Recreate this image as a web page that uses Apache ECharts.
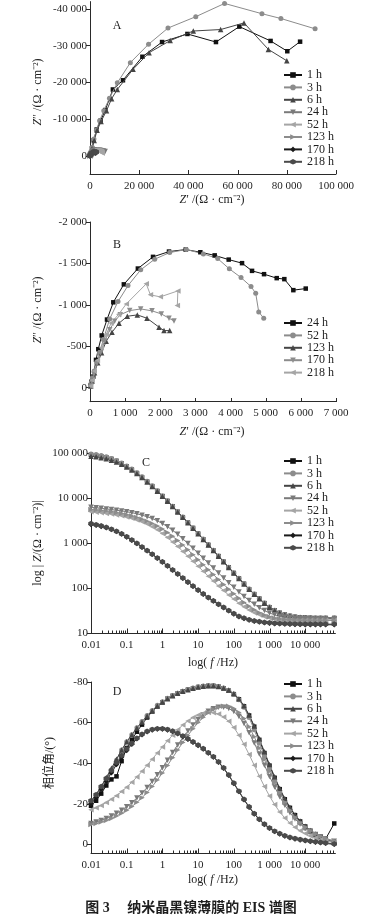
<!DOCTYPE html>
<html><head><meta charset="utf-8">
<script src="https://cdn.jsdelivr.net/npm/echarts@6/dist/echarts.min.js"></script>
<style>html,body{margin:0;padding:0;background:#fff}#c{width:366px;height:918px}</style>
</head><body><div id="c"></div>
<script>
// ---------- tick labels ----------
const aXTicks = [0, 20000, 40000, 60000, 80000, 100000];
const aYTicks = [-40000, -30000, -20000, -10000, 0];
const bXTicks = [0, 1000, 2000, 3000, 4000, 5000, 6000, 7000];
const bYTicks = [-2000, -1500, -1000, -500, 0];
const logXTicks = [0.01, 0.1, 1, 10, 100, 1000, 10000];
const cYTicks = [10, 100, 1000, 10000, 100000];
const dYTicks = [-80, -60, -40, -20, 0];

// ---------- categories ----------
const namesAll = ['1 h', '3 h', '6 h', '24 h', '52 h', '123 h', '170 h', '218 h'];
const namesB = ['24 h', '52 h', '123 h', '170 h', '218 h'];

// ---------- Nyquist data [Z', Z''] (Ω·cm⁻²) ----------
const nyq1h = [[100,-200],[350,-700],[800,-2100],[1500,-4300],[2700,-7200],[4300,-9600],[6200,-12500],[9300,-18100],[13400,-20600],[21300,-27000],[29300,-31000],[39600,-33200],[51200,-31000],[60700,-35200],[73400,-31300],[80200,-28500],[85400,-31100]];
const nyq3h = [[100,-250],[400,-900],[900,-2400],[1600,-4600],[2600,-7000],[3900,-9600],[5600,-12300],[7900,-15700],[11100,-19900],[16400,-25400],[23800,-30400],[31700,-34800],[43000,-37900],[54700,-41500],[69900,-38700],[77600,-37400],[91500,-34600]];
const nyq6h = [[100,-200],[350,-650],[850,-2000],[1700,-4200],[2900,-7000],[4500,-9400],[6700,-12300],[8800,-15600],[11100,-18100],[17500,-23600],[24000,-28100],[32600,-31400],[42000,-34000],[53100,-34400],[62600,-36200],[72500,-29000],[80000,-25900]];
const nyq24h = [[15,-25],[40,-70],[94,-133],[171,-335],[236,-464],[333,-630],[484,-822],[663,-1030],[963,-1247],[1362,-1438],[1793,-1579],[2248,-1643],[2723,-1667],[3140,-1635],[3548,-1597],[3947,-1546],[4326,-1503],[4611,-1410],[4952,-1370],[5313,-1322],[5530,-1310],[5786,-1177],[6139,-1196]];
const nyq52h = [[15,-20],[35,-60],[70,-120],[120,-200],[190,-300],[270,-420],[380,-580],[560,-830],[797,-1039],[1081,-1232],[1443,-1422],[1841,-1551],[2268,-1631],[2742,-1668],[3226,-1615],[3634,-1558],[3965,-1434],[4298,-1329],[4582,-1220],[4715,-1140],[4801,-914],[4944,-838]];
const nyq123h = [[20,-20],[60,-80],[130,-180],[220,-300],[330,-420],[460,-560],[626,-669],[825,-778],[1062,-862],[1346,-878],[1622,-838],[1964,-730],[2106,-689],[2268,-689]];
const nyq170h = [[20,-20],[50,-70],[110,-160],[200,-290],[300,-420],[420,-560],[560,-700],[700,-800],[860,-880],[1129,-930],[1443,-950],[1764,-927],[2030,-890],[2248,-838],[2391,-805]];
const nyq218h = [[20,-20],[60,-90],[120,-200],[210,-330],[320,-480],[460,-640],[600,-780],[817,-887],[1033,-1011],[1600,-1253],[1720,-1120],[2000,-1096],[2500,-1168],[2485,-991]];

// ---------- Bode data ----------
const freqs = [0.01,0.0139,0.0193,0.0268,0.0373,0.0518,0.072,0.1,0.139,0.193,0.268,0.373,0.518,0.72,1,1.39,1.93,2.68,3.73,5.18,7.2,10,13.9,19.3,26.8,37.3,51.8,72,100,139,193,268,373,518,720,1000,1390,1930,2680,3730,5180,7200,10000,13900,19300,26800,37300,65000];

const z1h = [93300,90200,86100,81300,75000,67600,59600,51300,43700,36300,29500,23400,18600,14500,11200,8710,6610,5010,3800,2880,2190,1640,1230,923,692,519,389,292,219,166,126,95.5,74.1,58.9,46.8,38.0,32.4,28.5,26.0,24.3,23.2,22.6,22.4,22.1,21.9,21.9,21.9,21.9];
const z3h = [97000,93500,89000,84000,77000,69500,61000,52500,44500,37000,30000,23800,18900,14700,11300,8800,6700,5050,3830,2900,2200,1650,1240,930,697,522,391,293,220,167,127,96,74.5,59,47,38.2,32.6,28.7,26.2,24.5,23.4,22.8,22.5,22.2,22,22,22,22];
const z6h = [86000,83500,80000,76000,70500,64000,57000,49500,42500,35500,29000,23100,18400,14300,11100,8620,6550,4960,3770,2860,2170,1630,1220,918,688,516,387,290,218,165,125,95,73.5,58.5,46.5,37.8,32.2,28.3,25.8,24.1,23,22.4,22.1,21.8,21.6,21.6,21.6,21.6];
const z24h = [6310,6170,6030,5820,5620,5430,5250,5010,4790,4520,4220,3890,3550,3160,2750,2340,1950,1580,1260,989,776,603,468,363,282,219,170,132,105,83.2,66.1,53.7,44.2,37.2,32.0,28.2,25.7,24.0,22.9,22.1,21.6,21.4,21.1,20.9,20.9,20.9,20.9,20.9];
const z52h = [5010,4900,4790,4620,4470,4270,4070,3850,3590,3310,3020,2690,2340,2000,1660,1350,1070,851,661,513,398,309,240,186,145,112,89.1,70.8,57.5,46.8,38.9,33.1,28.8,25.7,23.4,21.9,20.9,20.2,19.7,19.5,19.3,19.3,19.3,19.3,19.3,19.3,19.3,19.3];
const z123h = [5620,5500,5370,5200,5010,4790,4570,4330,4050,3760,3440,3110,2770,2420,2070,1740,1430,1150,912,716,558,433,335,260,202,157,122,95.5,75.9,60.3,48.6,39.8,33.4,28.8,25.5,23.2,21.7,20.8,20.2,19.9,19.7,19.6,19.5,19.5,19.5,19.5,19.5,19.5];
const z170h = [2630,2510,2370,2210,2020,1820,1600,1380,1170,989,822,684,569,468,385,313,254,207,168,136,111,90.2,74.1,61.7,51.9,43.7,37.2,31.6,26.9,23.4,21.4,19.7,18.6,17.8,17.2,16.8,16.4,16.2,16.0,15.8,15.7,15.6,15.5,15.5,15.5,15.5,15.5,15.5];
const z218h = [2750,2600,2440,2260,2060,1850,1630,1400,1190,1000,830,690,574,472,388,316,256,209,170,138,112,91.5,75.2,62.6,52.7,44.4,37.8,32.1,27.4,23.8,21.8,20.1,19.0,18.2,17.6,17.2,16.8,16.6,16.4,16.2,16.1,16.0,16.0,16.0,16.0,16.0,16.0,16.0];

const p1h = [-19,-21.5,-25,-29,-32,-33.5,-41,-47.5,-51.5,-55.5,-59,-62.5,-65.5,-68,-70,-71.8,-73.2,-74.4,-75.4,-76.2,-76.9,-77.5,-77.9,-78.1,-78.1,-77.7,-76.9,-75.7,-74,-71.5,-68,-63.5,-58,-51.5,-45,-38.8,-32.8,-27.2,-22.2,-18,-14.4,-11.3,-8.8,-6.7,-5,-3.7,-2.7,-10.3];
const p3h = [-20.5,-23.5,-27.5,-31.5,-36.5,-41.5,-46.5,-50.5,-54,-57.5,-60.5,-63.5,-66,-68.5,-70.3,-72,-73.3,-74.5,-75.5,-76.3,-77,-77.6,-78,-78.2,-78.2,-77.8,-77,-75.8,-74,-71.3,-67.5,-62.5,-56.5,-50,-43.5,-37.5,-31.5,-26,-21,-17,-13.5,-10.5,-8,-6,-4.5,-3.2,-2.2,-1];
const p6h = [-21,-24.5,-28.5,-33,-37.5,-42,-46.5,-50.5,-54,-57.3,-60.3,-63.2,-65.8,-68.2,-70.1,-71.8,-73.2,-74.4,-75.4,-76.2,-76.9,-77.5,-77.9,-78.1,-78.1,-77.8,-77.1,-76,-74.3,-71.8,-68.3,-63.8,-58.3,-52,-45.6,-39.3,-33.3,-27.6,-22.6,-18.3,-14.6,-11.5,-8.9,-6.8,-5.1,-3.7,-2.6,-1.2];
const p24h = [-10.3,-11,-11.8,-12.8,-14,-15.3,-16.8,-18.5,-20.5,-22.8,-25.3,-28,-31,-34.3,-37.8,-41.5,-45.3,-49,-52.5,-55.8,-58.8,-61.5,-63.8,-65.6,-66.8,-67.5,-67.6,-67,-65.5,-63,-59.5,-55,-50,-44.5,-39,-33.5,-28.3,-23.5,-19.3,-15.6,-12.5,-10,-8,-6.3,-4.9,-3.7,-2.7,-1.5];
const p52h = [-17,-18,-19.2,-20.6,-22.2,-24,-26,-28.2,-30.6,-33.2,-36,-39,-42,-45,-48,-51,-53.8,-56.5,-58.8,-60.8,-62.5,-63.8,-64.6,-65,-64.9,-64.2,-62.8,-60.6,-57.6,-53.8,-49.3,-44.3,-39,-33.6,-28.5,-23.8,-19.6,-16,-13,-10.5,-8.4,-6.7,-5.3,-4.1,-3.1,-2.3,-1.6,-0.8];
const p123h = [-9.8,-10.3,-11,-11.8,-12.8,-14,-15.3,-16.8,-18.6,-20.7,-23,-25.6,-28.5,-31.7,-35.2,-38.9,-42.7,-46.5,-50.2,-53.7,-57,-60,-62.6,-64.8,-66.5,-67.6,-68.1,-68,-67,-65,-62,-58,-53,-47.5,-41.8,-36,-30.5,-25.4,-20.8,-16.8,-13.4,-10.6,-8.4,-6.6,-5.1,-3.9,-2.9,-1.7];
const p170h = [-20,-23,-27,-31,-35.3,-39.3,-43,-46.3,-49.3,-52,-54,-55.5,-56.4,-56.8,-56.8,-56.4,-55.6,-54.5,-53.2,-51.8,-50.3,-48.7,-47,-45,-43,-40.5,-37.5,-34,-30,-26,-22,-18.3,-15,-12.2,-9.8,-7.9,-6.3,-5.1,-4.1,-3.3,-2.7,-2.2,-1.8,-1.4,-1.1,-0.8,-0.5,0];
const p218h = [-21.5,-24.5,-28.5,-32.5,-36.5,-40.3,-43.8,-47,-49.8,-52.3,-54.3,-55.7,-56.6,-57,-57,-56.6,-55.8,-54.7,-53.4,-52,-50.5,-48.9,-47.2,-45.2,-43.2,-40.7,-37.7,-34.2,-30.2,-26.2,-22.2,-18.5,-15.2,-12.4,-10,-8.1,-6.5,-5.3,-4.3,-3.5,-2.9,-2.4,-2,-1.6,-1.3,-1,-0.7,-0.2];

// ---------- styles ----------
const SERIF = "'Liberation Serif','Noto Sans CJK SC',serif";
const TXT = '#1e1e1e';
const AXC = '#2a2a2a';
const DOWN = 'path://M0,0L10,0L5,10Z';
const LEFT = 'path://M0,5L10,0L10,10Z';
const RIGHT = 'path://M0,0L10,5L0,10Z';
const HEX = 'path://M5,0L9.33,2.5L9.33,7.5L5,10L0.67,7.5L0.67,2.5Z';
const styleMain = {
  '1 h':   {c:'#111111', s:'rect', z:5},
  '3 h':   {c:'#8c8c8c', s:'circle', z:6},
  '6 h':   {c:'#454545', s:'triangle', z:6},
  '24 h':  {c:'#7a7a7a', s:DOWN, z:6},
  '52 h':  {c:'#a5a5a5', s:LEFT, z:6},
  '123 h': {c:'#8c8c8c', s:RIGHT, z:6},
  '170 h': {c:'#1a1a1a', s:'diamond', z:6},
  '218 h': {c:'#4a4a4a', s:HEX, z:6}
};
const styleB = {
  '24 h':  {c:'#111111', s:'rect', z:6},
  '52 h':  {c:'#8c8c8c', s:'circle', z:6},
  '123 h': {c:'#454545', s:'triangle', z:6},
  '170 h': {c:'#8c8c8c', s:DOWN, z:6},
  '218 h': {c:'#a5a5a5', s:LEFT, z:6}
};

function fmt(v) {
  const neg = v < 0;
  let s = String(Math.round(Math.abs(v)));
  if (s.length >= 4) s = s.replace(/\B(?=(\d{3})+(?!\d))/g, ' ');
  return (neg ? '-' : '') + s;
}
function fmtLog(v) { return v < 1 ? String(v) : fmt(v); }

function mkSeries(panel, name, st, xi, yi, data) {
  return {
    type: 'line', name: panel + '|' + name, xAxisIndex: xi, yAxisIndex: yi, data: data,
    symbol: st.s, symbolSize: st.s === 'rect' ? 4.5 : (st.s === 'circle' ? 5 : 5.5),
    showSymbol: true, showAllSymbol: true, z: st.z,
    lineStyle: {color: st.c, width: 1}, itemStyle: {color: st.c},
    emphasis: {disabled: true}, animation: false
  };
}

// inward x-axis tick marks, placed through the axis scale
function tickSeries(xi, yi, vals, yRef, len) {
  return {
    type: 'custom', xAxisIndex: xi, yAxisIndex: yi, silent: true, z: 1, clip: false, animation: false,
    data: vals.map(v => [v, yRef]), encode: {x: 0, y: 1},
    renderItem: function (params, api) {
      const p = api.coord([api.value(0), api.value(1)]);
      const cs = params.coordSys;
      const x = Math.round(p[0]) + 0.5;
      const yb = Math.round(cs.y + cs.height);
      return {type: 'line', shape: {x1: x, y1: yb, x2: x, y2: yb - len}, style: {stroke: AXC, lineWidth: 1}};
    }
  };
}

const nyqMap = {'1 h': nyq1h, '3 h': nyq3h, '6 h': nyq6h, '24 h': nyq24h, '52 h': nyq52h, '123 h': nyq123h, '170 h': nyq170h, '218 h': nyq218h};
const zMap = {'1 h': z1h, '3 h': z3h, '6 h': z6h, '24 h': z24h, '52 h': z52h, '123 h': z123h, '170 h': z170h, '218 h': z218h};
const pMap = {'1 h': p1h, '3 h': p3h, '6 h': p6h, '24 h': p24h, '52 h': p52h, '123 h': p123h, '170 h': p170h, '218 h': p218h};
const pair = arr => freqs.map((f, i) => [f, arr[i]]);

const LMAX = 70000;
const logMinorTicks = [];
for (let d = -2; d <= 4; d++) for (let k = 2; k <= 9; k++) {
  const v = parseFloat((k * Math.pow(10, d)).toPrecision(3));
  if (v < LMAX) logMinorTicks.push(v);
}

const series = [];
namesAll.forEach(n => series.push(mkSeries('A', n, styleMain[n], 0, 0, nyqMap[n])));
namesB.forEach(n => series.push(mkSeries('B', n, styleB[n], 1, 1, nyqMap[n])));
namesAll.forEach(n => series.push(mkSeries('C', n, styleMain[n], 2, 2, pair(zMap[n]))));
namesAll.forEach(n => series.push(mkSeries('D', n, styleMain[n], 3, 3, pair(pMap[n]))));
series.push(tickSeries(0, 0, aXTicks, 0, 4));
series.push(tickSeries(1, 1, bXTicks, 0, 4));
series.push(tickSeries(2, 2, logXTicks, 10, 4.5));
series.push(tickSeries(2, 2, logMinorTicks, 10, 2.5));
series.push(tickSeries(3, 3, logXTicks, 0, 4.5));
series.push(tickSeries(3, 3, logMinorTicks, 0, 2.5));

// ---------- axes ----------
const lineSt = () => ({show: true, onZero: false, lineStyle: {color: AXC, width: 1}});
const lab = (vals, f, m) => ({customValues: vals, formatter: f, margin: m, color: TXT, fontSize: 11, fontFamily: SERIF, showMinLabel: true, showMaxLabel: true});
function xAx(gi, type, min, max, ticks, f) {
  const o = {type: type, gridIndex: gi, min: min, max: max, position: 'bottom',
    axisLine: lineSt(), splitLine: {show: false}, axisTick: {show: false},
    axisLabel: lab(ticks, f, 6)};
  if (type === 'log') o.logBase = 10;
  return o;
}
function yAx(gi, type, min, max, ticks, f, inv) {
  const o = {type: type, gridIndex: gi, min: min, max: max, inverse: !!inv,
    axisLine: lineSt(), splitLine: {show: false},
    axisTick: {show: true, inside: false, length: 4, customValues: ticks, lineStyle: {color: AXC}},
    axisLabel: lab(ticks, f, 3)};
  if (type === 'log') o.logBase = 10;
  return o;
}

const legendBase = {orient: 'vertical', itemWidth: 18, itemHeight: 7, itemGap: 0.4, left: 278,
  textStyle: {fontSize: 12, fontFamily: SERIF, color: TXT, lineHeight: 12},
  formatter: n => n.split('|')[1], selectedMode: false};

function t(x, y, text, o) {
  o = o || {};
  return {type: 'text', x: x, y: y, rotation: o.rot || 0, silent: true,
    style: {text: text, fill: TXT, fontSize: o.fs || 12, fontFamily: o.ff || SERIF, fontWeight: o.fw || 'normal',
      align: 'center', verticalAlign: 'middle',
      rich: {i: {fontStyle: 'italic', fontSize: o.fs || 12, fontFamily: SERIF, fill: TXT}}}};
}

const option = {
  backgroundColor: '#ffffff',
  animation: false,
  grid: [
    {left: 90, top: 1.6, width: 246, height: 172.8},
    {left: 90, top: 222, width: 246, height: 179.7},
    {left: 91, top: 453.3, width: 244.4, height: 180},
    {left: 91, top: 682, width: 244.4, height: 171.3}
  ],
  xAxis: [
    xAx(0, 'value', 0, 100000, aXTicks, fmt),
    xAx(1, 'value', 0, 7000, bXTicks, fmt),
    xAx(2, 'log', 0.01, LMAX, logXTicks, fmtLog),
    xAx(3, 'log', 0.01, LMAX, logXTicks, fmtLog)
  ],
  yAxis: [
    yAx(0, 'value', -42000, 5000, aYTicks, fmt, true),
    yAx(1, 'value', -2000, 170, bYTicks, fmt, true),
    yAx(2, 'log', 10, 100000, cYTicks, fmt, false),
    yAx(3, 'value', -80, 4.4, dYTicks, fmt, true)
  ],
  legend: [
    Object.assign({}, legendBase, {top: 64, data: namesAll.map(n => 'A|' + n)}),
    Object.assign({}, legendBase, {top: 312, data: namesB.map(n => 'B|' + n)}),
    Object.assign({}, legendBase, {top: 450, data: namesAll.map(n => 'C|' + n)}),
    Object.assign({}, legendBase, {top: 673, data: namesAll.map(n => 'D|' + n)})
  ],
  graphic: [
    t(117, 26, 'A'), t(117, 245, 'B'), t(146, 463, 'C'), t(117, 692, 'D'),
    t(38, 92, '{i|Z}″ /(Ω · cm⁻²)', {rot: Math.PI / 2}),
    t(212, 200, '{i|Z}′ /(Ω · cm⁻²)'),
    t(38, 310, '{i|Z}″ /(Ω · cm⁻²)', {rot: Math.PI / 2}),
    t(212, 432, '{i|Z}′ /(Ω · cm⁻²)'),
    t(38, 543, 'log | {i|Z}/(Ω · cm⁻²)|', {rot: Math.PI / 2}),
    t(213, 663, 'log( {i|f} /Hz)'),
    t(50, 763, '相位角/(°)', {rot: Math.PI / 2}),
    t(213, 880, 'log( {i|f} /Hz)'),
    t(191, 908, '图 3　 纳米晶黑镍薄膜的 EIS 谱图', {fs: 14, fw: 'bold'})
  ],
  series: series
};
const chart = echarts.init(document.getElementById('c'), null, {renderer: 'canvas'});
chart.setOption(option);
</script></body></html>
